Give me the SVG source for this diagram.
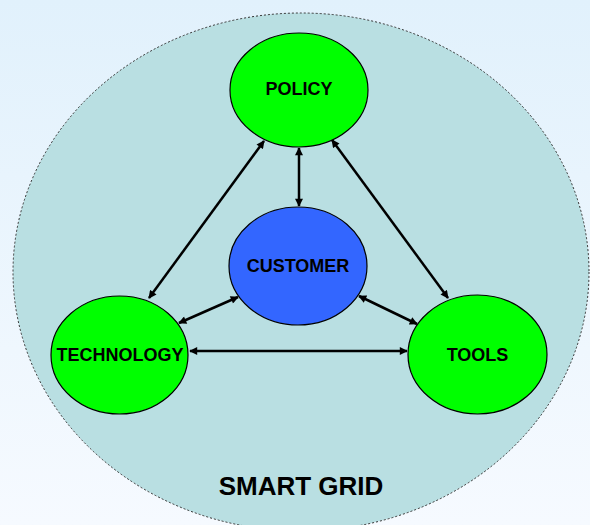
<svg xmlns="http://www.w3.org/2000/svg" width="590" height="525" viewBox="0 0 590 525">
  <defs>
    <linearGradient id="bg" x1="0" y1="0" x2="0" y2="1">
      <stop offset="0" stop-color="#E1F1FC"/>
      <stop offset="1" stop-color="#F6FAFF"/>
    </linearGradient>
    <marker id="ah" viewBox="0 0 10 10" refX="9" refY="5" markerWidth="9" markerHeight="8" markerUnits="userSpaceOnUse" orient="auto-start-reverse">
      <path d="M0,0 L10,5 L0,10 z" fill="#000"/>
    </marker>
  </defs>
  <style>
    .node { stroke: #000; stroke-width: 1.2; }
    .green { fill: #00FF00; }
    .blue { fill: #3366FF; }
    .lbl { font-family: "Liberation Sans", Arial, sans-serif; font-weight: bold; font-size: 18px; text-anchor: middle; fill: #000; }
    .conn { stroke: #000; stroke-width: 2.5; fill: none; marker-start: url(#ah); marker-end: url(#ah); }
  </style>
  <rect x="0" y="0" width="590" height="525" fill="url(#bg)"/>
  <g id="smart-grid">
    <ellipse cx="301" cy="272" rx="288" ry="259" fill="#B9DFE2" stroke="#333" stroke-width="1" stroke-dasharray="2,2"/>
    <text x="301" y="495" class="lbl" style="font-size:26px">SMART GRID</text>
  </g>
  <g id="connectors">
    <line class="conn" x1="264" y1="141" x2="149" y2="298"/>
    <line class="conn" x1="332" y1="140" x2="448" y2="298"/>
    <line class="conn" x1="299" y1="148" x2="299" y2="206"/>
    <line class="conn" x1="179" y1="323" x2="238" y2="297"/>
    <line class="conn" x1="359" y1="296" x2="417" y2="324"/>
    <line class="conn" x1="190" y1="351" x2="407" y2="351"/>
  </g>
  <g id="policy">
    <ellipse class="node green" cx="299" cy="90" rx="69" ry="57"/>
    <text class="lbl" x="299" y="95">POLICY</text>
  </g>
  <g id="customer">
    <ellipse class="node blue" cx="298" cy="266" rx="69" ry="59"/>
    <text class="lbl" x="298" y="272">CUSTOMER</text>
  </g>
  <g id="technology">
    <ellipse class="node green" cx="119.5" cy="355" rx="68.5" ry="59"/>
    <text class="lbl" x="120" y="361">TECHNOLOGY</text>
  </g>
  <g id="tools">
    <ellipse class="node green" cx="477.5" cy="354.5" rx="69.5" ry="59.5"/>
    <text class="lbl" x="477.5" y="361">TOOLS</text>
  </g>
</svg>
